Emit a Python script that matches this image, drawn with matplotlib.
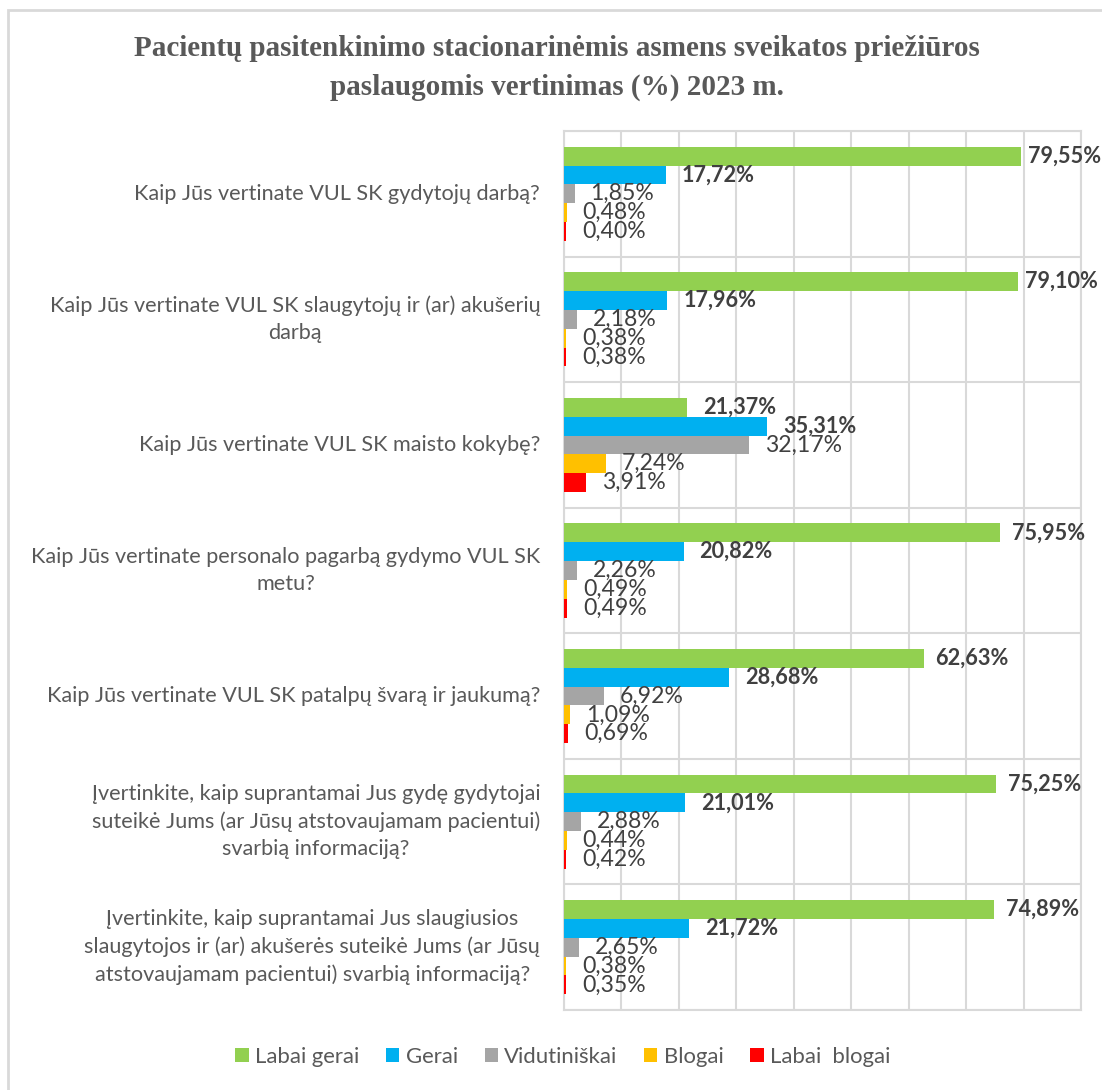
import matplotlib
matplotlib.use("Agg")
import matplotlib.pyplot as plt
import numpy as np
from matplotlib.patches import Rectangle

categories = [
    "Kaip Jūs vertinate VUL SK gydytojų darbą?",
    "Kaip Jūs vertinate VUL SK slaugytojų ir (ar) akušerių\ndarbą",
    "Kaip Jūs vertinate VUL SK maisto kokybę?",
    "Kaip Jūs vertinate personalo pagarbą gydymo VUL SK\nmetu?",
    "Kaip Jūs vertinate VUL SK patalpų švarą ir jaukumą?",
    "Įvertinkite, kaip suprantamai Jus gydę gydytojai\nsuteikė Jums (ar Jūsų atstovaujamam pacientui)\nsvarbią informaciją?",
    "Įvertinkite, kaip suprantamai Jus slaugiusios\nslaugytojos ir (ar) akušerės suteikė Jums (ar Jūsų\natstovaujamam pacientui) svarbią informaciją?",
]
series_names = ["Labai gerai", "Gerai", "Vidutiniškai", "Blogai", "Labai  blogai"]
labai_gerai = [79.55, 79.10, 21.37, 75.95, 62.63, 75.25, 74.89]
gerai = [17.72, 17.96, 35.31, 20.82, 28.68, 21.01, 21.72]
vidutiniskai = [1.85, 2.18, 32.17, 2.26, 6.92, 2.88, 2.65]
blogai = [0.48, 0.38, 7.24, 0.49, 1.09, 0.44, 0.38]
labai_blogai = [0.40, 0.38, 3.91, 0.49, 0.69, 0.42, 0.35]
colors = ["#92D050", "#00B0F0", "#A5A5A5", "#FFC000", "#FF0000"]
title = "Pacientų pasitenkinimo stacionarinėmis asmens sveikatos priežiūros\npaslaugomis vertinimas (%) 2023 m."

FONT = ["Lato", "DejaVu Sans"]
plt.rcParams["font.family"] = FONT

fig = plt.figure(figsize=(11.02, 10.90), dpi=100)
# outer frame
fig.patches.append(Rectangle((8/1102, -0.01), 1.02, 1 - 10/1090 + 0.01, transform=fig.transFigure,
                             fill=False, edgecolor="#D9D9D9", linewidth=2))

ax = fig.add_axes([564/1102, 1 - 1010/1090, (1081 - 564)/1102, (1010 - 131)/1090])
data = [labai_gerai, gerai, vidutiniskai, blogai, labai_blogai]
n = len(categories)
y = np.arange(n)
h = 0.15
for i, (vals, c, name) in enumerate(zip(data, colors, series_names)):
    pos = y - 2 * h + i * h
    ax.barh(pos, vals, height=h, color=c, label=name, zorder=3)
    bold = i < 2
    for yy, v in zip(pos, vals):
        off = 11.5
        if i == 0 and v > 78:
            off = 5  # pulled inward to stay inside the chart area
        elif i == 0 and v > 60:
            off = 8.5
        ax.annotate(f"{v:.2f}%".replace(".", ","), (v, yy), xytext=(off, 0),
                    textcoords="offset points", va="center", ha="left",
                    fontsize=15.6 if bold else 16.6, color="#404040",
                    fontweight="bold" if bold else "normal", zorder=4)

ax.set_xlim(0, 90)
ax.set_ylim(n - 0.5, -0.5)
ax.set_xticks(np.arange(0, 91, 10))
ax.xaxis.grid(True, color="#D9D9D9", linewidth=1.5, zorder=0)
ax.set_yticks(np.arange(-0.5, n, 1), minor=False)
ax.yaxis.grid(True, color="#D9D9D9", linewidth=1.5, zorder=0)
ax.tick_params(axis="both", length=0, labelbottom=False, labelleft=False)
for s in ax.spines.values():
    s.set_color("#D9D9D9")
    s.set_linewidth(1.5)

for yy, lab in zip(y, categories):
    ax.text(-0.046, yy, lab, transform=ax.get_yaxis_transform(),
            ha="right", va="center", multialignment="center", fontsize=15.6,
            color="#595959", linespacing=1.45)

fig.text(0.505, 1 - 68/1090, title, ha="center", va="center", fontsize=21,
         fontweight="bold", color="#595959", family=["Liberation Serif", "DejaVu Serif"],
         linespacing=1.55)

leg = fig.legend(loc="center", bbox_to_anchor=(563/1102, 1 - 1057/1090), ncol=5, frameon=False,
                 fontsize=15.9, handlelength=0.6, handleheight=0.6, handletextpad=0.3,
                 columnspacing=1.2, labelcolor="#595959")

fig.savefig("out.png", dpi=100)
